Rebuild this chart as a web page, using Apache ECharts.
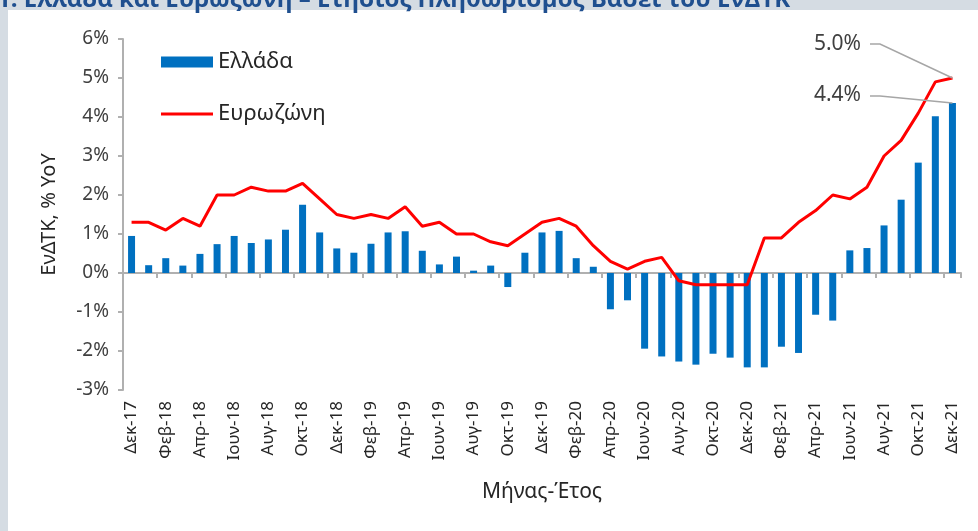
<!DOCTYPE html>
<html>
<head>
<meta charset="utf-8">
<script src="https://cdn.jsdelivr.net/npm/echarts@6/dist/echarts.min.js"></script>
<style>
html,body{margin:0;padding:0;background:#ffffff;}
#c{width:978px;height:531px;}
</style>
</head>
<body>
<div id="c"></div>
<script>
const categories = [
  'Δεκ-17',
  'Ιαν-18','Φεβ-18','Μαρ-18','Απρ-18','Μαϊ-18','Ιουν-18','Ιουλ-18','Αυγ-18','Σεπ-18','Οκτ-18','Νοε-18','Δεκ-18',
  'Ιαν-19','Φεβ-19','Μαρ-19','Απρ-19','Μαϊ-19','Ιουν-19','Ιουλ-19','Αυγ-19','Σεπ-19','Οκτ-19','Νοε-19','Δεκ-19',
  'Ιαν-20','Φεβ-20','Μαρ-20','Απρ-20','Μαϊ-20','Ιουν-20','Ιουλ-20','Αυγ-20','Σεπ-20','Οκτ-20','Νοε-20','Δεκ-20',
  'Ιαν-21','Φεβ-21','Μαρ-21','Απρ-21','Μαϊ-21','Ιουν-21','Ιουλ-21','Αυγ-21','Σεπ-21','Οκτ-21','Νοε-21','Δεκ-21'
];
const greece = [
  0.95,
  0.20, 0.38, 0.19, 0.49, 0.74, 0.95, 0.77, 0.86, 1.11, 1.75, 1.04, 0.63,
  0.52, 0.75, 1.04, 1.07, 0.57, 0.22, 0.42, 0.06, 0.19, -0.36, 0.52, 1.04,
  1.08, 0.38, 0.16, -0.93, -0.70, -1.94, -2.14, -2.27, -2.35, -2.07, -2.17, -2.42,
  -2.42, -1.89, -2.05, -1.07, -1.22, 0.58, 0.64, 1.22, 1.88, 2.83, 4.02, 4.36
];
const eurozone = [
  1.3,
  1.3, 1.1, 1.4, 1.2, 2.0, 2.0, 2.2, 2.1, 2.1, 2.3, 1.9, 1.5,
  1.4, 1.5, 1.4, 1.7, 1.2, 1.3, 1.0, 1.0, 0.8, 0.7, 1.0, 1.3,
  1.4, 1.2, 0.7, 0.3, 0.1, 0.3, 0.4, -0.2, -0.3, -0.3, -0.3, -0.3,
  0.9, 0.9, 1.3, 1.6, 2.0, 1.9, 2.2, 3.0, 3.4, 4.1, 4.9, 5.0
];
const yMin = -3, yMax = 6, yStep = 1;
const seriesNames = ['Ελλάδα', 'Ευρωζώνη'];
const titleText = '1. Ελλάδα και Ευρωζώνη – Ετήσιος Πληθωρισμός Βάσει του ΕνΔΤΚ';
const yAxisName = 'ΕνΔΤΚ, % YoY';
const xAxisName = 'Μήνας-Έτος';

const FONT = '"Noto Sans", "Open Sans", sans-serif';
const chart = echarts.init(document.getElementById('c'), null, {renderer: 'canvas'});

const legendText = {fontFamily: FONT, fontSize: 22, color: '#262626'};
const option = {
  animation: false,
  backgroundColor: '#ffffff',
  grid: {left: 123, right: 17, top: 39, bottom: 141, containLabel: false},
  legend: [
    {
      orient: 'vertical', left: 156, top: 46, padding: 5,
      itemWidth: 52, itemHeight: 11,
      textStyle: legendText,
      data: [{name: seriesNames[0], icon: 'rect'}]
    },
    {
      orient: 'vertical', left: 156, top: 98, padding: 5,
      itemWidth: 52, itemHeight: 3,
      textStyle: legendText,
      data: [{name: seriesNames[1], icon: 'rect'}]
    }
  ],
  xAxis: [
    {
      type: 'category', data: categories, position: 'bottom',
      axisLine: {show: true, onZero: true, lineStyle: {color: '#b0b0b0', width: 2}},
      axisTick: {show: true, interval: 1, length: 5, lineStyle: {color: '#b0b0b0', width: 2}},
      axisLabel: {show: false},
      splitLine: {show: false}
    },
    {
      type: 'category', data: categories, position: 'bottom',
      axisLine: {show: false, onZero: false},
      axisTick: {show: false},
      axisLabel: {show: true, interval: 1, rotate: 90, margin: 11,
        fontFamily: FONT, fontSize: 17, color: '#262626'},
      name: xAxisName, nameLocation: 'middle', nameGap: 92,
      nameTextStyle: {fontFamily: FONT, fontSize: 21, color: '#262626'},
      splitLine: {show: false}
    }
  ],
  yAxis: {
    type: 'value', min: yMin, max: yMax, interval: yStep,
    axisLine: {show: true, lineStyle: {color: '#b0b0b0', width: 2}},
    axisTick: {show: true, length: 5, lineStyle: {color: '#b0b0b0', width: 2}},
    axisLabel: {formatter: '{value}%', margin: 14, fontFamily: FONT, fontSize: 19, color: '#404040'},
    splitLine: {show: false},
    name: yAxisName, nameLocation: 'middle', nameGap: 64, nameRotate: 90,
    nameTextStyle: {fontFamily: FONT, fontSize: 20, color: '#262626'}
  },
  series: [
    {
      name: seriesNames[0], type: 'bar', xAxisIndex: 0, data: greece,
      barWidth: 7, itemStyle: {color: '#0070c0'}, z: 2
    },
    {
      name: seriesNames[1], type: 'line', xAxisIndex: 0, data: eurozone,
      symbol: 'none', showSymbol: false,
      lineStyle: {color: '#ff0000', width: 3}, itemStyle: {color: '#ff0000'}, z: 3
    }
  ],
  graphic: [
    {id: 'topband', type: 'rect', shape: {x: 0, y: 0, width: 978, height: 10}, style: {fill: '#d5dce3'}, z: 100},
    {id: 'leftband', type: 'rect', shape: {x: 0, y: 0, width: 8, height: 531}, style: {fill: '#d5dce3'}, z: 100},
    {id: 'title', type: 'text', x: -3, y: 12, z: 101,
      style: {text: titleText, font: 'bold 24px "Open Sans", sans-serif', fill: '#1f4f8f', verticalAlign: 'bottom'}}
  ]
};
chart.setOption(option);

const last = categories.length - 1;
const pLine = chart.convertToPixel({seriesIndex: 1}, [last, eurozone[last]]);
const pBar = chart.convertToPixel({seriesIndex: 0}, [last, greece[last]]);
const annFont = '21px ' + FONT;
chart.setOption({
  graphic: [
    {id: 'ann1line', type: 'polyline', z: 50,
      shape: {points: [[870, 44], [880, 44], pLine]},
      style: {stroke: '#a6a6a6', lineWidth: 1.5, fill: null}},
    {id: 'ann1text', type: 'text', x: 861, y: 44, z: 50,
      style: {text: eurozone[last].toFixed(1) + '%', font: annFont, fill: '#404040', align: 'right', verticalAlign: 'middle'}},
    {id: 'ann2line', type: 'polyline', z: 50,
      shape: {points: [[870, 96], [880, 96], pBar]},
      style: {stroke: '#a6a6a6', lineWidth: 1.5, fill: null}},
    {id: 'ann2text', type: 'text', x: 861, y: 95, z: 50,
      style: {text: greece[last].toFixed(1) + '%', font: annFont, fill: '#404040', align: 'right', verticalAlign: 'middle'}}
  ]
});
</script>
</body>
</html>
